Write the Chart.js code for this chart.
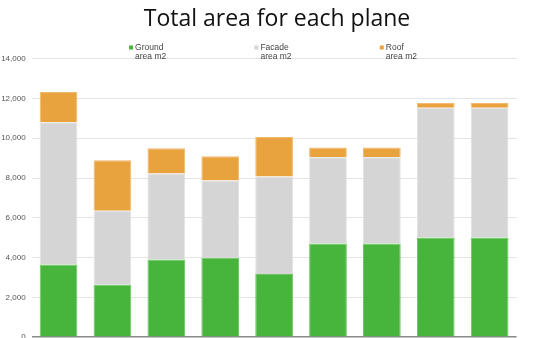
<!DOCTYPE html>
<html>
<head>
<meta charset="utf-8">
<script src="https://cdn.jsdelivr.net/npm/chart.js@4"></script>
<style>
  html, body { margin: 0; padding: 0; background: #fff; overflow: hidden; }
  #wrap { width: 554px; height: 348px; }
</style>
</head>
<body>
<div id="wrap"><canvas id="chart-1" width="554" height="348"></canvas></div>
<script>
/* global Chart */

// chart data
const planes = ['Plane 1', 'Plane 2', 'Plane 3', 'Plane 4', 'Plane 5', 'Plane 6', 'Plane 7', 'Plane 8', 'Plane 9']
const groundArea = [3650, 2640, 3900, 3990, 3180, 4710, 4710, 5010, 5010]
const facadeArea = [7150, 3710, 4330, 3890, 4900, 4330, 4330, 6520, 6520]
const roofArea = [1520, 2540, 1260, 1210, 1980, 490, 490, 240, 240]
const seriesNames = [['Ground', 'area m2'], ['Facade', 'area m2'], ['Roof', 'area m2']]
const yTicks = [0, 2000, 4000, 6000, 8000, 10000, 12000, 14000]

const colours = ['#47b43c', '#d5d5d5', '#e9a33e']
const borders = ['#6cc463', '#e2e2e2', '#f0bb70']

// legend with two-line labels, the built in one only does single lines
const splitLegend = {
  id: 'splitLegend',
  afterDraw (chart) {
    const ctx = chart.ctx
    const area = chart.chartArea
    ctx.save()
    ctx.font = '8.5px "Liberation Sans", Arial, sans-serif'
    ctx.textBaseline = 'alphabetic'
    chart.data.datasets.forEach((ds, i) => {
      const x = area.left + area.width * (0.204 + i * 0.2585)
      ctx.fillStyle = ds.backgroundColor
      ctx.fillRect(x - 1.5, 45.5, 4, 4)
      ctx.fillStyle = '#444'
      ctx.fillText(ds.label[0], x + 4.5, 50)
      ctx.fillText(ds.label[1], x + 4.5, 59)
    })
    ctx.restore()
  }
}

const datasets = [groundArea, facadeArea, roofArea].map((values, i) => ({
  label: seriesNames[i],
  data: values,
  backgroundColor: colours[i],
  borderColor: borders[i],
  borderWidth: 1,
  barPercentage: 0.7,
  categoryPercentage: 1
}))

const chart = new Chart(document.getElementById('chart-1'), {
  type: 'bar',
  data: { labels: planes, datasets },
  plugins: [splitLegend],
  options: {
    responsive: false,
    animation: false,
    devicePixelRatio: 1,
    layout: { padding: { left: 0, right: 0, top: 0, bottom: 0 } },
    plugins: {
      legend: { display: false },
      tooltip: { enabled: false },
      title: {
        display: true,
        text: 'Total area for each plane',
        color: '#111',
        font: { family: '"Open Sans", sans-serif', size: 23, weight: 'normal' },
        padding: { top: 6, bottom: 25 }
      }
    },
    scales: {
      x: {
        stacked: true,
        display: false
      },
      y: {
        stacked: true,
        min: 0,
        max: 14000,
        afterFit (scale) { scale.width = 31.6 },
        afterBuildTicks (scale) { scale.ticks = yTicks.map(v => ({ value: v })) },
        border: { display: false },
        grid: {
          drawTicks: false,
          color: ctx => ctx.tick && ctx.tick.value === 0 ? '#8a8a8a' : '#e4e4e4',
          lineWidth: ctx => ctx.tick && ctx.tick.value === 0 ? 1.5 : 1
        },
        ticks: {
          padding: 6,
          color: '#555',
          font: { family: '"Liberation Sans", Arial, sans-serif', size: 8 },
          callback: v => v.toLocaleString('en-US')
        }
      },
      // empty strip on the right, keeps the title centred on the page
      spacer: {
        type: 'linear',
        position: 'right',
        display: true,
        afterFit (scale) { scale.width = 37.4 },
        grid: { display: false },
        border: { display: false },
        ticks: { display: false }
      }
    }
  }
})
</script>
</body>
</html>
